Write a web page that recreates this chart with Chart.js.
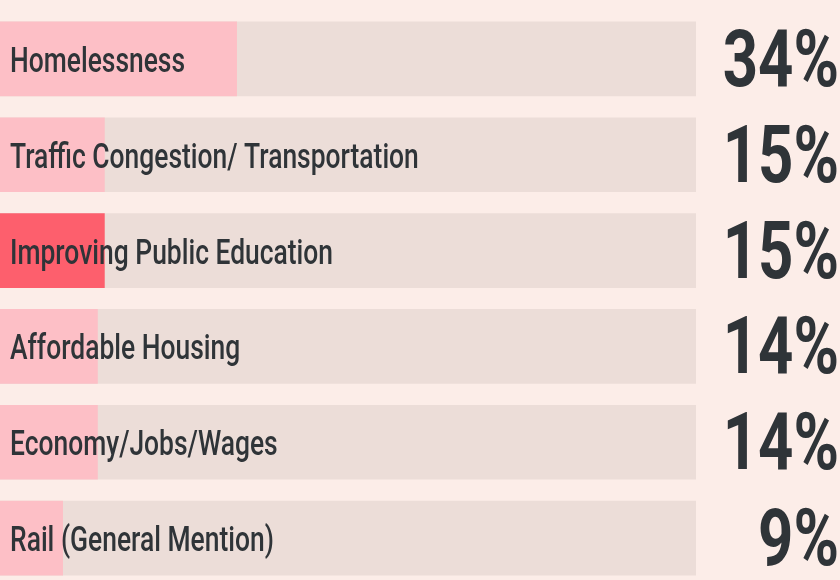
<!DOCTYPE html>
<html>
<head>
<meta charset="utf-8">
<script src="https://cdn.jsdelivr.net/npm/chart.js@4"></script>
<style>
  html, body { margin: 0; padding: 0; background: #fcede8; overflow: hidden; }
  #wrap { position: relative; width: 840px; height: 586px; }
</style>
</head>
<body>
<div id="wrap"><canvas id="chart"></canvas></div>
<script>
const categories = [
  "Homelessness",
  "Traffic Congestion/ Transportation",
  "Improving Public Education",
  "Affordable Housing",
  "Economy/Jobs/Wages",
  "Rail (General Mention)",
];
const percents = [34, 15, 15, 14, 14, 9];
const trackValues = [100, 100, 100, 100, 100, 100];
const highlightIndex = 2;

const barColors = percents.map((v, i) => (i === highlightIndex ? "#fd5f6d" : "#fdbfc6"));

// no condensed font installed, so squeeze Roboto horizontally
const labelSqueeze = 0.755;
const pctSqueeze = 0.78;

// draws category names inside the bars and the big percentages on the right
const labelPlugin = {
  id: "rowLabels",
  afterDatasetsDraw(chart) {
    const ctx = chart.ctx;
    const meta = chart.getDatasetMeta(0);
    meta.data.forEach((bar, i) => {
      const y = bar.y;
      ctx.save();
      ctx.fillStyle = "#2f3438";
      ctx.textBaseline = "alphabetic";
      ctx.translate(10, y + 13);
      ctx.scale(labelSqueeze, 1);
      ctx.textAlign = "left";
      ctx.font = "500 35px Roboto, 'DejaVu Sans Condensed', sans-serif";
      ctx.fillText(categories[i], 0, 0);
      ctx.restore();

      ctx.save();
      ctx.fillStyle = "#2f3438";
      ctx.textBaseline = "alphabetic";
      ctx.translate(839, y + 27);
      ctx.scale(pctSqueeze, 1);
      ctx.textAlign = "right";
      ctx.font = "bold 79px Roboto, 'DejaVu Sans Condensed', sans-serif";
      ctx.fillText(percents[i] + "%", 0, 0);
      ctx.restore();
    });
  },
};

new Chart(document.getElementById("chart"), {
  type: "bar",
  data: {
    labels: categories,
    datasets: [
      {
        data: percents,
        backgroundColor: barColors,
        barThickness: 74,
        grouped: false,
        order: 0,
      },
      {
        data: trackValues,
        backgroundColor: "#ecddd8",
        barThickness: 74,
        grouped: false,
        order: 1,
      },
    ],
  },
  options: {
    indexAxis: "y",
    responsive: true,
    maintainAspectRatio: false,
    animation: false,
    layout: { padding: { top: 11, bottom: 0, left: 0, right: 144 } },
    plugins: { legend: { display: false }, tooltip: { enabled: false } },
    scales: {
      x: { display: false, min: 0, max: 100 },
      y: { display: false },
    },
  },
  plugins: [labelPlugin],
});
</script>
</body>
</html>
